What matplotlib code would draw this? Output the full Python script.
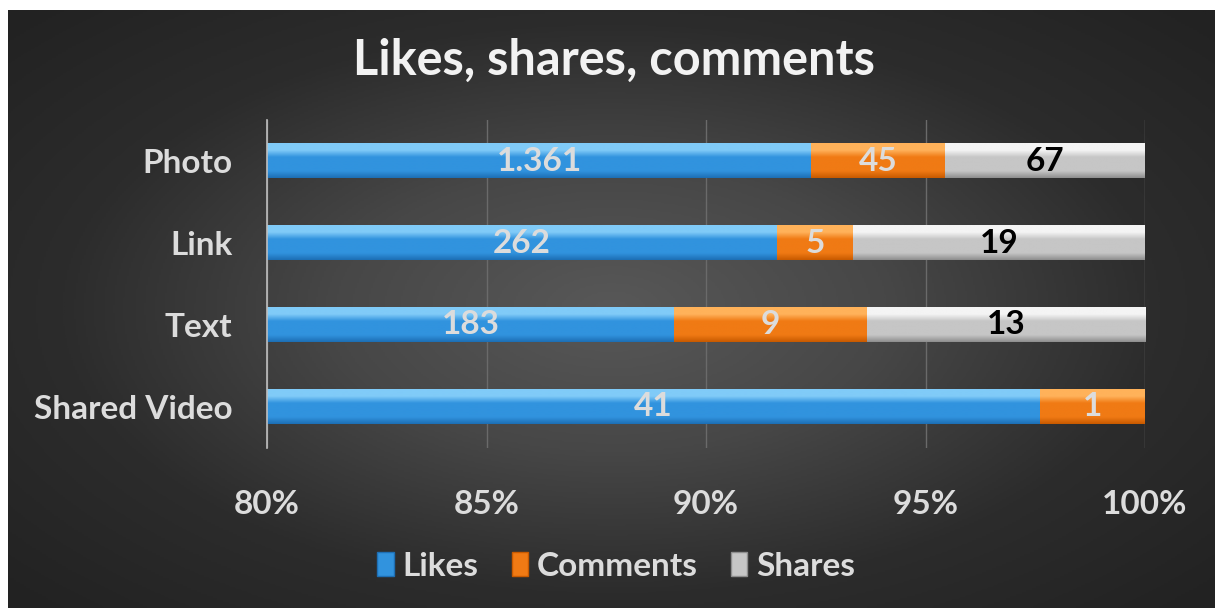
import numpy as np
import matplotlib; matplotlib.use("Agg")
import matplotlib.pyplot as plt
from matplotlib.colors import LinearSegmentedColormap
from matplotlib.patches import Rectangle

# ---------------------------------------------------------------- data
categories = ["Photo", "Link", "Text", "Shared Video"]
likes    = [1361, 262, 183, 41]
comments = [45, 5, 9, 1]
shares   = [67, 19, 13, 0]
series_names = ["Likes", "Comments", "Shares"]
xticks = [80, 85, 90, 95, 100]

FONT = "Lato"
LIGHT = "#dcdcdc"
FS = 24
# (base, light top, dark bottom) per series
COLS = [("#3193de", "#80cbf8", "#1d6fb5"),
        ("#f07a14", "#ffb25a", "#c85a00"),
        ("#c6c6c6", "#f4f4f4", "#8e8e8e")]
LABEL_COL = [LIGHT, LIGHT, "black"]
XMIN, XMAX = xticks[0], xticks[-1]

def fmt(v):
    return f"{v:,}".replace(",", ".")

# percentages of each row total
vals = np.array([likes, comments, shares], dtype=float)
pct = vals / vals.sum(0) * 100

W, H = 1215, 608
fig = plt.figure(figsize=(W / 100, H / 100), dpi=100, facecolor="white")

# ------------------------------------------------ radial dark background
bg = fig.add_axes([8 / W, 0, 1 - 8 / W, 1 - 10 / H])
yy, xx = np.mgrid[-1:1:300j, -1:1:600j]
r = np.sqrt((xx / 1.05) ** 2 + (yy / 1.1) ** 2)
bgcm = LinearSegmentedColormap.from_list("bg", ["#585858", "#474747", "#2c2c2c", "#222222"])
bg.imshow(r, cmap=bgcm, aspect="auto", extent=[0, 1, 0, 1], vmin=0, vmax=1.3)
bg.set_axis_off()

# ------------------------------------------------ plot area
ax = fig.add_axes([267 / W, 160 / H, (1145 - 267) / W, (448 - 120) / H])
ax.set_facecolor("none")
y = np.arange(len(categories))
left = np.zeros(len(categories))
bh = 0.42
grad = np.linspace(0, 1, 100).reshape(-1, 1)
for i, name in enumerate(series_names):
    base, hi, lo = COLS[i]
    bars = ax.barh(y, pct[i], left=left, height=bh, color=base, label=name, zorder=3)
    cm = LinearSegmentedColormap.from_list(name, [hi, hi, base, base, base, lo])
    for rect, v, p, l0 in zip(bars, vals[i], pct[i], left):
        if v <= 0:
            continue
        x0 = max(rect.get_x(), XMIN)
        x1 = rect.get_x() + rect.get_width()
        y0 = rect.get_y()
        # image rows go top->bottom because the y axis is inverted
        ax.imshow(grad, cmap=cm, aspect="auto", origin="lower",
                  extent=[x0, x1, y0, y0 + rect.get_height()], zorder=3.5)
        ax.text((x0 + x1) / 2, y0 + rect.get_height() / 2, fmt(int(v)),
                ha="center", va="center", fontsize=FS, fontweight="bold",
                family=FONT, color=LABEL_COL[i], zorder=5)
    left += pct[i]

ax.set_xlim(XMIN, XMAX)
ax.set_ylim(len(categories) - 0.5, -0.5)
ax.set_xticks(xticks)
ax.set_xticklabels([f"{t}%" for t in xticks])
ax.set_yticks(y)
ax.set_yticklabels(categories)
ax.tick_params(length=0, colors=LIGHT, labelsize=FS)
ax.tick_params(axis="x", pad=30)
ax.tick_params(axis="y", pad=25)
for lab in ax.get_xticklabels() + ax.get_yticklabels():
    lab.set_fontweight("bold"); lab.set_family(FONT); lab.set_color(LIGHT)
ax.grid(axis="x", color="#6a6a6a", lw=1, zorder=0)
for s in ["top", "right", "bottom"]:
    ax.spines[s].set_visible(False)
ax.spines["left"].set_color("#bfbfbf")
ax.spines["left"].set_linewidth(1.2)
ax.spines["left"].set_zorder(6)

fig.text(614 / W, 1 - 60 / H, "Likes, shares, comments", ha="center", va="center",
         fontsize=35, fontweight="bold", family=FONT, color="#f2f2f2")

# legend squares
handles = [Rectangle((0, 0), 1, 1, facecolor=COLS[i][0], edgecolor=COLS[i][2], lw=1)
           for i in range(3)]
leg = fig.legend(handles, series_names, loc="center", bbox_to_anchor=(616 / W, 1 - 566 / H),
                 ncol=3, frameon=False, handlelength=0.5, handleheight=0.7,
                 handletextpad=0.25, columnspacing=1.0,
                 prop={"family": FONT, "weight": "bold", "size": FS})
for t in leg.get_texts():
    t.set_color(LIGHT)

fig.savefig("out.png", dpi=100, facecolor="white")
